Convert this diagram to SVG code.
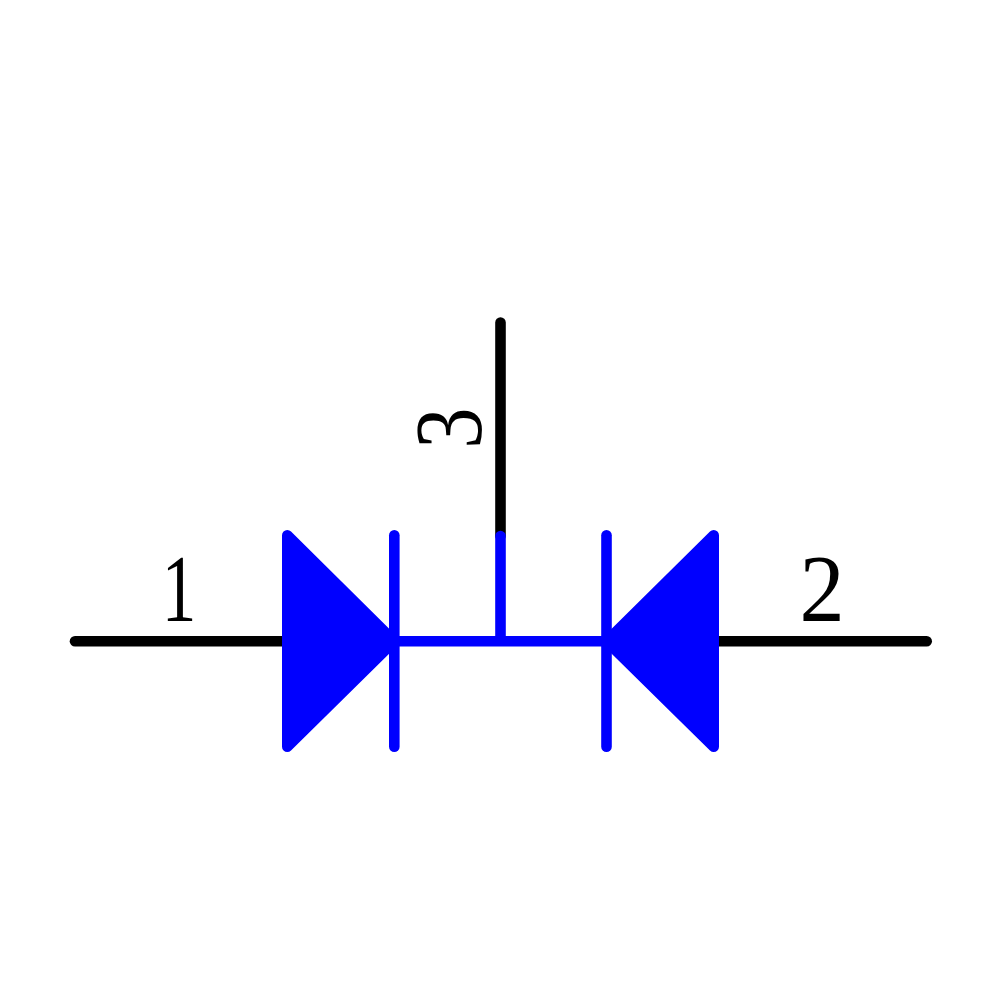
<svg xmlns="http://www.w3.org/2000/svg" width="1000" height="1000" viewBox="0 0 1000 1000">
<style>
.pin{stroke:#000;stroke-width:10.6;stroke-linecap:round;fill:none}
.sym{stroke:#00f;stroke-width:10.6;stroke-linecap:round;stroke-linejoin:round;fill:none}
.tri{stroke:#00f;stroke-width:10.6;stroke-linejoin:round;fill:#00f}
.lbl{font-family:"Liberation Serif","Times New Roman",serif;font-size:96px;fill:#000;text-rendering:geometricPrecision}
</style>
<rect width="1000" height="1000" fill="#fff"/>
<g id="connectors">
<path class="pin" d="M75 641.3H287.3"/>
<path class="pin" d="M713.7 641.3H926.7"/>
<path class="pin" d="M500.5 322.5V536"/>
</g>
<g id="diode-left">
<path class="tri" d="M287.3 535.3V746.7L394.3 641.3Z"/>
<path class="sym" d="M394.3 535.3V746.7"/>
</g>
<g id="diode-right">
<path class="tri" d="M713.7 535.3V746.7L606.5 641.3Z"/>
<path class="sym" d="M606.5 535.3V746.7"/>
</g>
<g id="bridge">
<path class="sym" d="M394.3 641.3H606.5M500.5 536V641.3"/>
</g>
<g id="pin-1"><text class="lbl" transform="translate(179 621) scale(.72 1)" text-anchor="middle">1</text></g>
<g id="pin-2"><text class="lbl" transform="translate(822 621) scale(.94 1)" text-anchor="middle">2</text></g>
<g id="pin-3"><text class="lbl" transform="translate(481 428) rotate(-90) scale(.86 1)" text-anchor="middle">3</text></g>
</svg>
